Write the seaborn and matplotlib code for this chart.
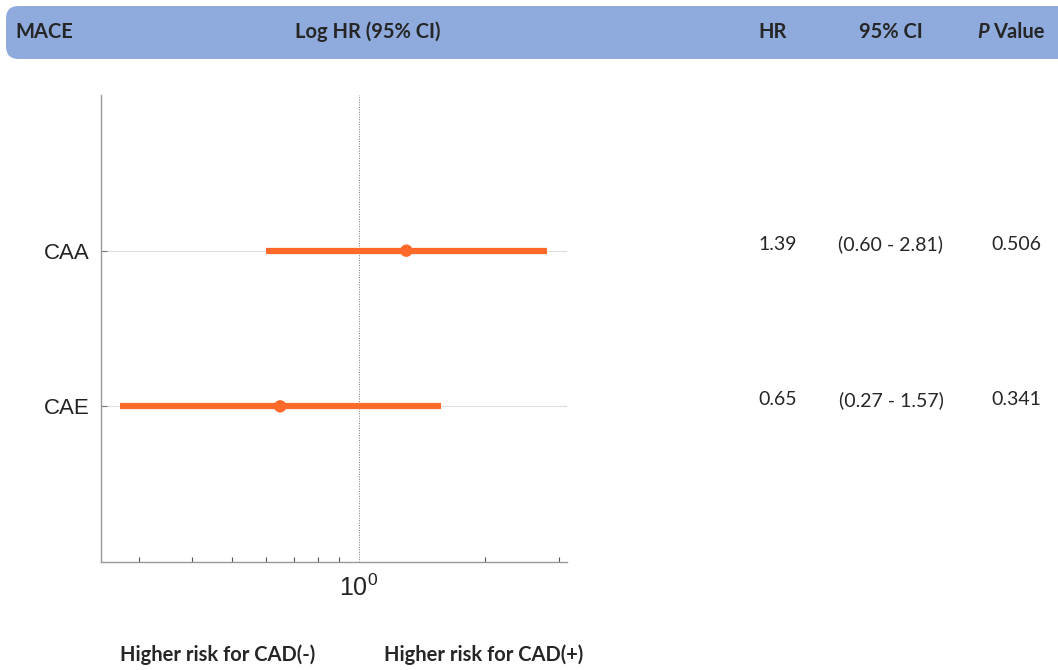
import matplotlib
matplotlib.use('Agg')
import matplotlib.pyplot as plt
from matplotlib.patches import FancyBboxPatch
import pandas as pd
import numpy as np
import seaborn as sns

# data
outcomes = ['CAA', 'CAE']
point_est = [1.30, 0.65]
ci_low = [0.60, 0.27]
ci_high = [2.81, 1.57]
hr_text = ['1.39', '0.65']
ci_text = ['(0.60 - 2.81)', '(0.27 - 1.57)']
p_text = ['0.506', '0.341']

orange = '#FF6A2B'
header_col = '#8FAADC'

df = pd.DataFrame({'outcome': outcomes, 'hr': point_est,
                   'lo': ci_low, 'hi': ci_high})
df['pos'] = np.arange(len(df))

sns.set_style('white')
plt.rcParams['font.family'] = ['Liberation Sans', 'DejaVu Sans']
plt.rcParams['mathtext.fontset'] = 'custom'
plt.rcParams['mathtext.rm'] = 'Liberation Sans'

fig = plt.figure(figsize=(10.58, 6.70), dpi=100)
W, H = 1058, 670

# header band
band = FancyBboxPatch((6 / W, 1 - 59 / H), 1.2, 53 / H,
                      boxstyle='round,pad=0,rounding_size=0.012',
                      transform=fig.transFigure, facecolor=header_col,
                      edgecolor='none', mutation_aspect=W / H)
fig.patches.append(band)
hdr = dict(fontsize=14.5, fontweight='bold', family='Lato', va='center')
yh = 1 - 32 / H
fig.text(15 / W, yh, 'MACE', ha='left', **hdr)
fig.text(368 / W, yh, 'Log HR (95% CI)', ha='center', **hdr)
fig.text(773 / W, yh, 'HR', ha='center', **hdr)
fig.text(891 / W, yh, '95% CI', ha='center', **hdr)
fig.text(977 / W, yh, 'P', ha='left', style='italic', **hdr)
fig.text(993 / W, yh, 'Value', ha='left', **hdr)

ax = fig.add_axes([101 / W, 1 - 562 / H, 466 / W, 467 / H])
ax.set_xscale('log')

for y in df['pos']:
    ax.axhline(y, color='#dddddd', lw=0.8, zorder=0)
ax.axvline(1, color='#777777', lw=0.7, ls=(0, (1, 1.5)), zorder=1)

ax.hlines(df['pos'], df['lo'], df['hi'], color=orange, lw=4.5, zorder=2)
sns.scatterplot(data=df, x='hr', y='pos', color=orange, s=80,
                edgecolor='none', zorder=3, ax=ax, legend=False)

ax.set_xlim(0.243, 3.14)
ax.set_ylim(2, -1)
ax.set_yticks(df['pos'], outcomes)
ax.set_xticks([1], [r'$\mathrm{10^0}$'])
ax.xaxis.set_minor_locator(matplotlib.ticker.LogLocator(subs=np.arange(2, 10)))
ax.xaxis.set_minor_formatter(matplotlib.ticker.NullFormatter())
ax.tick_params(bottom=True, left=True, which='both')
ax.tick_params(axis='x', which='major', direction='in', length=0,
               labelsize=18, pad=9, colors='#222222')
ax.tick_params(axis='x', which='minor', direction='in', length=3.5,
               width=0.8, color='#555555')
ax.tick_params(axis='y', direction='in', length=4, width=0.8,
               color='#777777', labelsize=16, labelcolor='#222222', pad=8)
ax.set_xlabel('')
ax.set_ylabel('')
sns.despine(ax=ax)
for s in ['left', 'bottom']:
    ax.spines[s].set_color('#999999')
    ax.spines[s].set_linewidth(1.0)

# table columns
for i, y in enumerate([251, 407]):
    yt = 1 - (y - 7) / H
    tx = dict(fontsize=14, family='Lato', va='center', ha='center')
    fig.text(778 / W, yt, hr_text[i], **tx)
    fig.text(891 / W, yt, ci_text[i], **tx)
    fig.text(1016 / W, yt, p_text[i], **tx)

foot = dict(fontsize=14.5, fontweight='bold', family='Lato',
            va='center', ha='center')
fig.text(218 / W, 1 - 655 / H, 'Higher risk for CAD(-)', **foot)
fig.text(484 / W, 1 - 655 / H, 'Higher risk for CAD(+)', **foot)

fig.savefig('out.png', dpi=100)
